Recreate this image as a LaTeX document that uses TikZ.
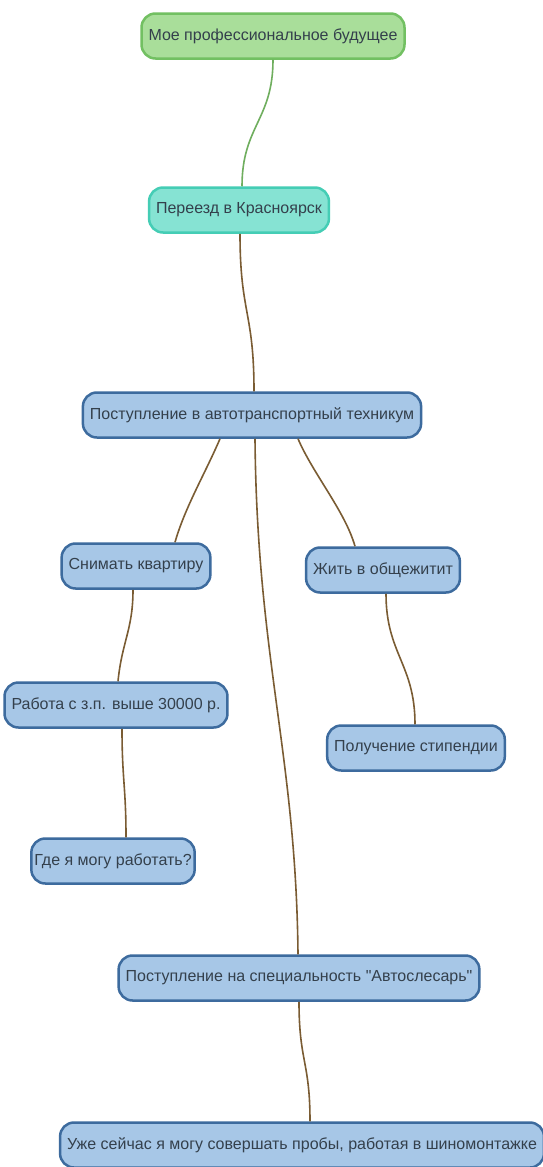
\documentclass[tikz,border=0pt]{standalone}
\usepackage{fontspec}
\setmainfont{Liberation Sans}[Ligatures=TeXOff]
\definecolor{bluefill}{HTML}{A7C7E7}
\definecolor{blueline}{HTML}{3D6B9E}
\definecolor{greenfill}{HTML}{A9DE9A}
\definecolor{greenline}{HTML}{72C062}
\definecolor{tealfill}{HTML}{86E3D3}
\definecolor{tealline}{HTML}{45CDB5}
\definecolor{brownline}{HTML}{7A5C33}
\definecolor{greenedge}{HTML}{6FAE5E}
\definecolor{txt}{HTML}{34404C}
\begin{document}
\begin{tikzpicture}[x=1pt,y=-1pt,
  box/.style={draw=blueline,fill=bluefill,rounded corners=14pt,line width=2.5pt,
    minimum height=45pt,inner xsep=7pt,text=txt,font=\fontsize{16}{19}\selectfont},
  greenbox/.style={box,draw=greenline,fill=greenfill},
  tealbox/.style={box,draw=tealline,fill=tealfill},
  link/.style={draw=brownline,line width=1.6pt},
  glink/.style={draw=greenedge,line width=1.6pt}]
\useasboundingbox[fill=white] (0,0) rectangle (543,1167);
\node[greenbox] (n1) at (273,36) {Мое профессиональное будущее};
\node[tealbox] (n2) at (239,210) {Переезд в Красноярск};
\node[box] (n3) at (252,415) {Поступление в автотранспортный техникум};
\node[box] (n4) at (136,566) {Снимать квартиру};
\node[box] (n5) at (383,570) {Жить в общежитит};
\node[box] (n6) at (116,705) {Работа с з.п. выше 30000 р.};
\node[box] (n7) at (416,748) {Получение стипендии};
\node[box,inner xsep=3pt] (n8) at (113,861) {Где я могу работать?};
\node[box] (n9) at (299,978) {Поступление на специальность "Автослесарь"};
\node[box] (n10) at (302,1145) {Уже сейчас я могу совершать пробы, работая в шиномонтажке};
\draw[glink] (n1.south) .. controls +(0,60) and +(0,-60) .. ([xshift=3pt]n2.north);
\draw[link] ([xshift=1pt]n2.south) .. controls +(0,80) and +(0,-80) .. ([xshift=2pt]n3.north);
\draw[link] ([xshift=-32pt]n3.south) .. controls +(-15,35) and +(10,-35) .. ([xshift=39pt]n4.north);
\draw[link] ([xshift=46pt]n3.south) .. controls +(15,35) and +(-10,-35) .. ([xshift=-28pt]n5.north);
\draw[link] ([xshift=3pt]n3.south) .. controls +(2,220) and +(-2,-200) .. ([xshift=-1pt]n9.north);
\draw[link] ([xshift=-3pt]n4.south) .. controls +(0,40) and +(4,-40) .. ([xshift=2pt]n6.north);
\draw[link] ([xshift=6pt]n6.south) .. controls +(0,50) and +(0,-50) .. ([xshift=13pt]n8.north);
\draw[link] ([xshift=3pt]n5.south) .. controls +(0,60) and +(0,-60) .. ([xshift=-1pt]n7.north);
\draw[link] (n9.south) .. controls +(0,60) and +(0,-60) .. ([xshift=8pt]n10.north);
\end{tikzpicture}
\end{document}
